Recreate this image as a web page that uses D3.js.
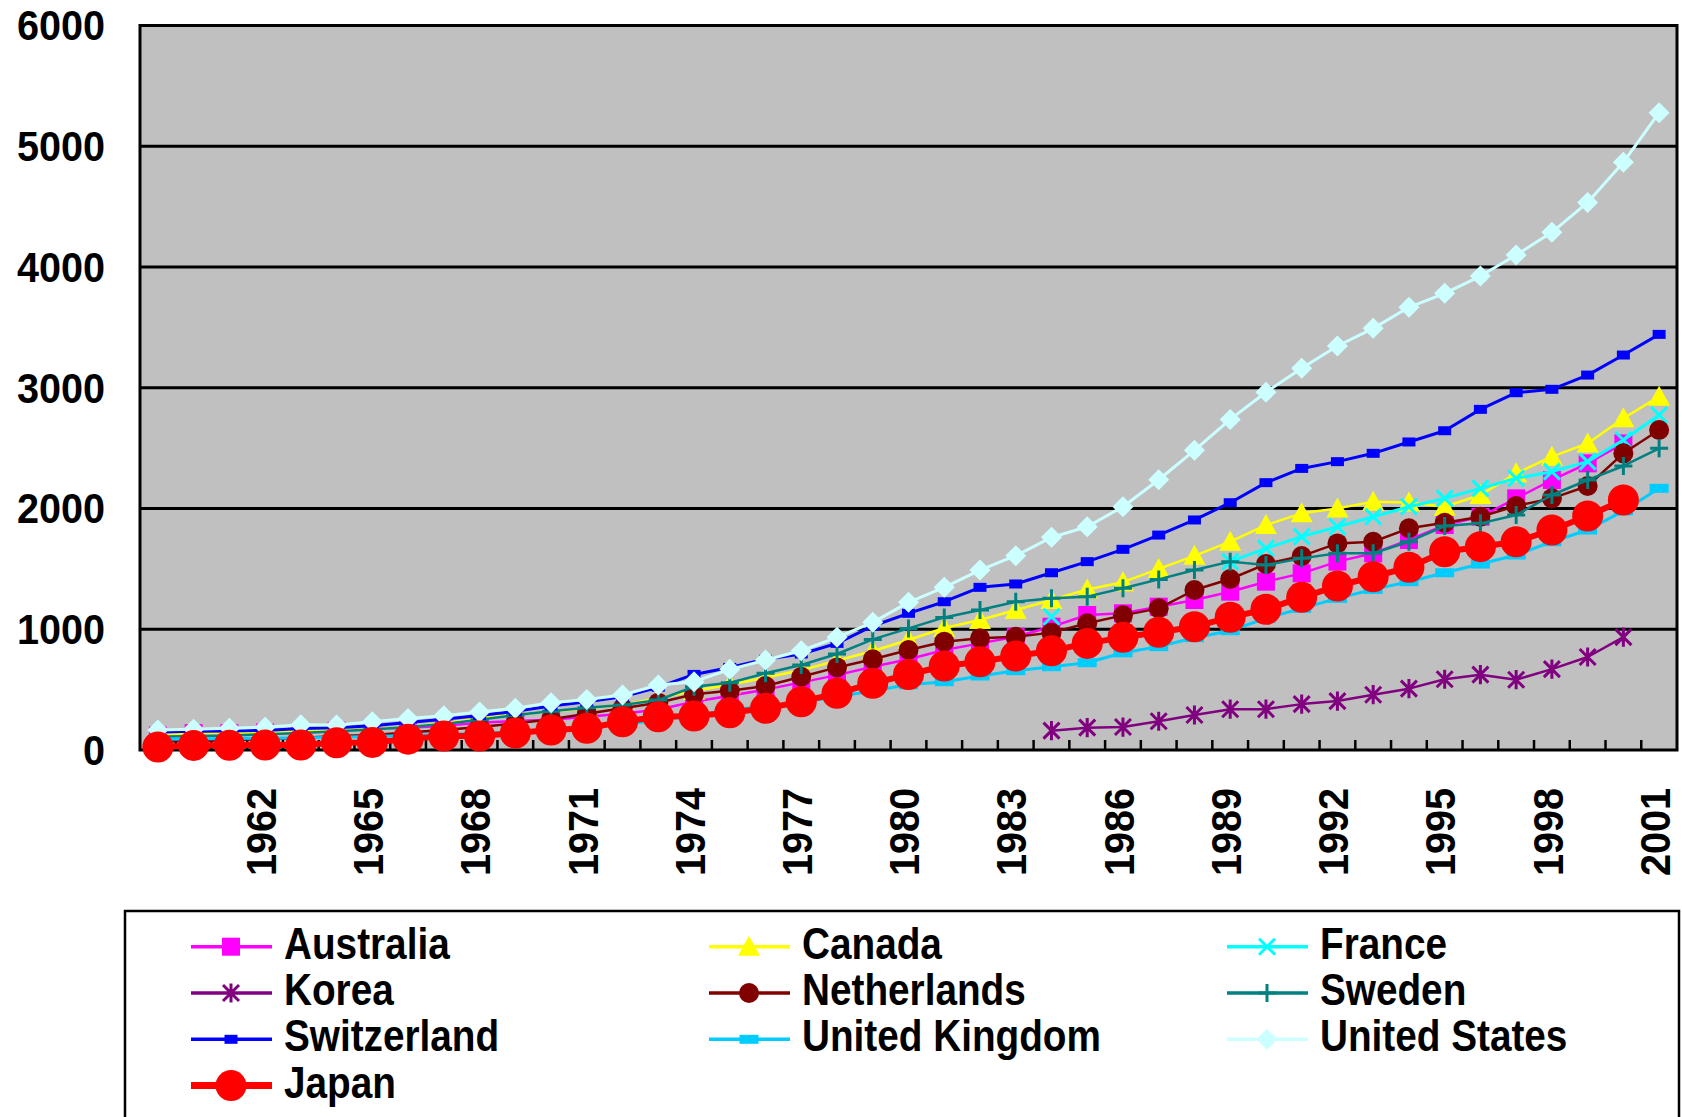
<!DOCTYPE html>
<html><head><meta charset="utf-8">
<script src="https://cdn.jsdelivr.net/npm/d3@7"></script>
<style>
body{margin:0;background:#fff}
svg{display:block}
text{font-family:"Liberation Sans",Arial,Helvetica,sans-serif;font-weight:bold;fill:#000}
</style>
</head><body><div id="chart"></div>
<script>
// ---------- DATA ----------
const years = [1959,1960,1961,1962,1963,1964,1965,1966,1967,1968,1969,1970,1971,1972,1973,1974,1975,1976,1977,1978,1979,1980,1981,1982,1983,1984,1985,1986,1987,1988,1989,1990,1991,1992,1993,1994,1995,1996,1997,1998,1999,2000,2001];
const xTickLabels = [1962,1965,1968,1971,1974,1977,1980,1983,1986,1989,1992,1995,1998,2001];
const yTickValues = [0,1000,2000,3000,4000,5000,6000];
const seriesNames = ["Australia","Canada","France","Korea","Netherlands","Sweden","Switzerland","United Kingdom","United States","Japan"];

const australia = [120,140,140,145,150,160,175,185,200,225,240,250,275,300,335,400,450,500,560,620,690,751,828,883,938,1021,1118,1132,1187,1242,1311,1394,1463,1560,1629,1739,1863,1932,2084,2236,2374,2539,null];
const canada = [125,135,138,142,158,165,172,193,221,262,295,317,345,373,428,490,540,600,660,740,820,911,1010,1077,1159,1242,1330,1390,1500,1608,1725,1863,1960,2001,2056,2050,2015,2112,2291,2429,2539,2747,2926];
const france = [null,null,null,null,null,null,null,null,null,null,null,null,null,null,null,null,null,null,null,null,null,null,null,null,null,1104,null,null,null,null,1560,1670,1767,1849,1932,2015,2084,2167,2250,2305,2388,2567,2774];
const korea = [null,null,null,null,null,null,null,null,null,null,null,null,null,null,null,null,null,null,null,null,null,null,null,null,null,160,185,190,238,290,338,338,380,405,458,508,586,624,582,670,770,935,null];
const netherlands = [70,75,80,88,100,115,125,145,165,190,220,255,300,345,392,461,491,530,607,684,751,828,897,925,938,972,1049,1115,1173,1325,1416,1540,1606,1711,1725,1836,1882,1932,2021,2084,2186,2457,2650];
const sweden = [110,115,120,130,140,155,170,190,215,250,290,320,350,373,414,524,557,635,704,795,916,1007,1098,1159,1228,1256,1270,1339,1413,1491,1560,1532,1587,1629,1629,1725,1855,1877,1946,2112,2236,2352,2498];
const switzerland = [150,155,158,162,178,185,200,228,255,285,320,365,400,440,520,626,684,751,795,883,1027,1132,1228,1347,1375,1468,1560,1662,1780,1905,2048,2214,2332,2388,2457,2551,2644,2821,2959,2987,3105,3271,3442];
const unitedKingdom = [90,92,95,98,100,105,112,120,128,138,150,165,190,215,245,290,330,365,395,440,490,540,566,613,657,690,723,805,856,930,988,1090,1173,1256,1330,1394,1468,1540,1615,1725,1822,1980,2167];
const unitedStates = [165,172,180,188,210,207,233,260,283,315,345,392,419,455,538,566,668,745,822,933,1057,1223,1347,1490,1609,1761,1849,2015,2238,2482,2738,2963,3161,3346,3492,3666,3782,3925,4099,4287,4535,4867,5278];
const japan = [25,38,40,42,42,60,63,90,115,116,140,165,180,234,276,281,309,345,400,469,552,625,696,731,778,822,883,933,975,1021,1099,1165,1264,1358,1435,1513,1642,1684,1725,1822,1938,2070,null];

const seriesValues = [australia,canada,france,korea,netherlands,sweden,switzerland,unitedKingdom,unitedStates,japan];

// ---------- STYLES ----------
const styles = {
  "Australia":      {color:"#FF00FF", marker:"square",   size:18, lw:2.5},
  "Canada":         {color:"#FFFF00", marker:"triangle", size:20, lw:2.5},
  "France":         {color:"#00FFFF", marker:"x",        size:16, lw:3},
  "Korea":          {color:"#800080", marker:"asterisk", size:16, lw:2.5},
  "Netherlands":    {color:"#800000", marker:"circle",   size:20, lw:2.5},
  "Sweden":         {color:"#008080", marker:"plus",     size:18, lw:2.5},
  "Switzerland":    {color:"#0000FF", marker:"rect",     size:13, h:9, lw:3},
  "United Kingdom": {color:"#00CCFF", marker:"rect",     size:19, h:9, lw:3},
  "United States":  {color:"#CCFFFF", marker:"diamond",  size:21, lw:3},
  "Japan":          {color:"#FF0000", marker:"circle",   size:31, lw:6}
};

const W = 1682, H = 1117;
const plot = {left:140, right:1677, top:25.5, bottom:750};

const svg = d3.select("#chart").append("svg").attr("width",W).attr("height",H);
svg.append("rect").attr("width",W).attr("height",H).attr("fill","#fff");

const x = d3.scaleBand().domain(years).range([plot.left, plot.right]).paddingInner(0).paddingOuter(0);
const y = d3.scaleLinear().domain([0,6000]).range([plot.bottom, plot.top]);
const cx = yr => x(yr) + x.bandwidth()/2;

// plot background
svg.append("rect").attr("x",plot.left).attr("y",plot.top)
  .attr("width",plot.right-plot.left).attr("height",plot.bottom-plot.top)
  .attr("fill","#C0C0C0");

// gridlines
svg.append("g").selectAll("line").data(yTickValues.filter(v=>v>0 && v<6000)).join("line")
  .attr("x1",plot.left).attr("x2",plot.right)
  .attr("y1",d=>y(d)).attr("y2",d=>y(d))
  .attr("stroke","#000").attr("stroke-width",3);

// x ticks (category boundaries, inside)
svg.append("g").selectAll("line").data(years.slice(1)).join("line")
  .attr("x1",d=>x(d)).attr("x2",d=>x(d))
  .attr("y1",plot.bottom).attr("y2",plot.bottom-10)
  .attr("stroke","#000").attr("stroke-width",2.5);

// border
svg.append("rect").attr("x",plot.left).attr("y",plot.top)
  .attr("width",plot.right-plot.left).attr("height",plot.bottom-plot.top)
  .attr("fill","none").attr("stroke","#000").attr("stroke-width",3);

// y labels
svg.append("g").selectAll("text").data(yTickValues).join("text")
  .attr("transform",d=>`translate(105,${y(d)}) scale(0.93,1)`)
  .attr("text-anchor","end").attr("dy","0.35em")
  .attr("font-size",42.6).text(d=>d);

// x labels
svg.append("g").selectAll("text").data(xTickLabels).join("text")
  .attr("transform",d=>`translate(${cx(d)-4.5},788) rotate(-90) scale(0.93,1)`)
  .attr("text-anchor","end").attr("dy","0.358em")
  .attr("font-size",42.6).text(d=>d);

// marker drawer
function drawMarker(sel, st){
  const s = st.size, c = st.color;
  switch(st.marker){
    case "square":
      sel.append("rect").attr("x",-s/2).attr("y",-s/2).attr("width",s).attr("height",s).attr("fill",c); break;
    case "rect":
      sel.append("rect").attr("x",-s/2).attr("y",-st.h/2).attr("width",s).attr("height",st.h).attr("fill",c); break;
    case "triangle":
      sel.append("path").attr("d",`M0,${-s*0.55}L${s*0.55},${s*0.45}L${-s*0.55},${s*0.45}Z`).attr("fill",c); break;
    case "circle":
      sel.append("circle").attr("r",s/2).attr("fill",c); break;
    case "diamond":
      sel.append("path").attr("d",`M0,${-s/2}L${s/2},0L0,${s/2}L${-s/2},0Z`).attr("fill",c); break;
    case "x":
      sel.append("path").attr("d",`M${-s/2},${-s/2}L${s/2},${s/2}M${-s/2},${s/2}L${s/2},${-s/2}`).attr("stroke",c).attr("stroke-width",3).attr("fill","none"); break;
    case "asterisk":
      sel.append("path").attr("d",`M${-s/2},${-s/2}L${s/2},${s/2}M${-s/2},${s/2}L${s/2},${-s/2}M0,${-s*0.6}L0,${s*0.6}`).attr("stroke",c).attr("stroke-width",3).attr("fill","none"); break;
    case "plus":
      sel.append("path").attr("d",`M${-s/2},0L${s/2},0M0,${-s/2}L0,${s/2}`).attr("stroke",c).attr("stroke-width",3).attr("fill","none"); break;
  }
}

// series
const line = d3.line().defined(d=>d.v!=null).x(d=>cx(d.yr)).y(d=>y(d.v));
seriesNames.forEach((name,i)=>{
  const st = styles[name];
  const data = years.map((yr,j)=>({yr, v:seriesValues[i][j]}));
  const g = svg.append("g");
  g.append("path").datum(data).attr("d",line).attr("fill","none")
    .attr("stroke",st.color).attr("stroke-width",st.lw).attr("stroke-linejoin","round");
  g.selectAll("g.m").data(data.filter(d=>d.v!=null)).join("g").attr("class","m")
    .attr("transform",d=>`translate(${cx(d.yr)},${y(d.v)})`)
    .each(function(){ drawMarker(d3.select(this), st); });
});

// legend
svg.append("rect").attr("x",125).attr("y",911).attr("width",1554).attr("height",260)
  .attr("fill","#fff").attr("stroke","#000").attr("stroke-width",2.5);
seriesNames.forEach((name,i)=>{
  const col = i%3, row = Math.floor(i/3);
  const x0 = 191 + col*518, yy = 946.7 + row*46.3;
  const st = styles[name];
  const g = svg.append("g");
  g.append("line").attr("x1",x0).attr("x2",x0+81).attr("y1",yy).attr("y2",yy)
    .attr("stroke",st.color).attr("stroke-width",name==="Japan"?7:3.5);
  const m = g.append("g").attr("transform",`translate(${x0+40},${yy})`);
  drawMarker(m, st);
  g.append("text").attr("transform",`translate(${x0+93},${yy+12}) scale(0.88,1)`)
    .attr("font-size",44).text(name);
});
</script>
</body></html>
